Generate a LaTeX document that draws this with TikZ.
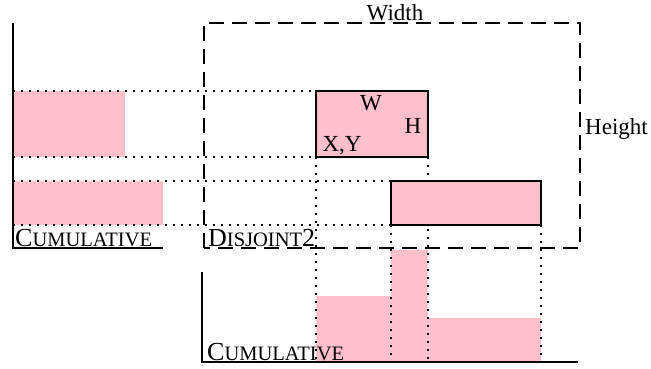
\documentclass[tikz,border=0pt]{standalone}
\usepackage{fontspec}
\setmainfont{Liberation Serif}
\usepackage{xcolor}
\definecolor{barpink}{RGB}{255,192,203}
\newcommand{\fakesc}[3]{{\fontsize{26}{28}\selectfont #1}{\fontsize{20.5}{22}\selectfont #2}{\fontsize{26}{28}\selectfont #3}}

\begin{document}
\begin{tikzpicture}[x=1pt,y=-1pt,font=\fontsize{23}{25}\selectfont]
    \useasboundingbox (0,0) rectangle (651,368);
    % pink bars
    \fill[barpink] (13,91) rectangle (125,157);
    \fill[barpink] (13,181) rectangle (163,225);
    \fill[barpink] (316,296) rectangle (391,362);
    \fill[barpink] (391,250) rectangle (428,362);
    \fill[barpink] (428,318) rectangle (541,362);
    % dotted guides
    \foreach \y/\x in {91/316,157/316,181/391,225/391}
    {
        \draw[line width=1.5pt,dash pattern=on 1.5pt off 6.5pt] (13,\y) -- (\x,\y);
    }
    \foreach \x/\y in {316/157,428/157,391/225,541/225}
    {
        \draw[line width=1.5pt,dash pattern=on 1.5pt off 6.5pt] (\x,\y) -- (\x,362);
    }
    % boxes
    \draw[line width=2pt,fill=barpink] (316,91) rectangle (428,157);
    \draw[line width=2pt,fill=barpink] (391,181) rectangle (541,225);
    \draw[line width=2pt,dash pattern=on 15pt off 8pt] (204,248) -- (204,23) -- (580,23) -- (580,248) -- cycle;
    % axes
    \draw[line width=2pt] (13,23) -- (13,248) -- (163,248);
    \draw[line width=2pt] (202,272) -- (202,362) -- (578,362);
    % labels
    \node[inner sep=1pt] (width) at (395,13) {Width};
    \node[anchor=west,inner sep=2pt] (height) at (583,129) {Height};
    \node (w) at (371,103) {W};
    \node (h) at (413,126) {H};
    \node (xy) at (342,146) {X,Y};
    \node[anchor=base west,inner sep=0pt] (cumtop) at (15,246) {\fakesc{C}{UMULATIVE}{}};
    \node[anchor=base west,inner sep=0pt] (disj) at (208,246) {\fakesc{D}{ISJOINT}{2}};
    \node[anchor=base west,inner sep=0pt] (cumbot) at (207,360) {\fakesc{C}{UMULATIVE}{}};
\end{tikzpicture}
\end{document}
